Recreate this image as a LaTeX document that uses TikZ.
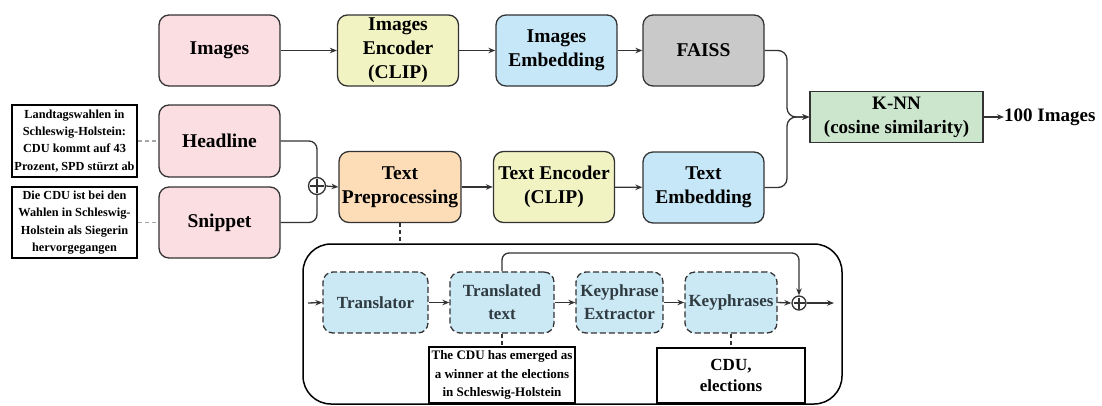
\documentclass[tikz,border=0pt]{standalone}
\usepackage{fontspec}
\setmainfont{Liberation Serif}
\usetikzlibrary{arrows.meta,calc}
\definecolor{cpink}{HTML}{FADEE1}
\definecolor{cyel}{HTML}{F2F3C3}
\definecolor{cblue}{HTML}{C6E7F7}
\definecolor{cgray}{HTML}{C9C9C9}
\definecolor{corange}{HTML}{FDDDB8}
\definecolor{cgreen}{HTML}{CCE6CD}
\definecolor{cpanel}{HTML}{CBE8F5}
\definecolor{cline}{HTML}{333333}
\definecolor{cptext}{HTML}{2F3B40}
\tikzset{
  mainbox/.style={draw=cline, line width=1.3pt, rounded corners=10pt, minimum width=121pt,
    minimum height=71pt, inner sep=0pt, align=center,
    font=\fontsize{19.5}{24}\selectfont\bfseries},
  knnbox/.style={draw=cline, line width=1.3pt, fill=cgreen, minimum width=173pt,
    minimum height=51pt, inner sep=0pt, align=center,
    font=\fontsize{19}{24}\selectfont\bfseries},
  smalltext/.style={draw=black, line width=1.5pt, minimum width=125pt, minimum height=71pt,
    inner sep=0pt, align=center, font=\fontsize{12.3}{17.3}\selectfont\bfseries},
  pbox/.style={draw=cline, line width=1.3pt, dash pattern=on 6pt off 3pt, fill=cpanel,
    rounded corners=10pt, minimum height=61pt, inner sep=0pt, align=center,
    text=cptext, font=\fontsize{17}{23}\selectfont\bfseries},
  descbox/.style={draw=black, line width=1.5pt, inner sep=0pt, align=center},
  conn/.style={draw=cline, line width=1.3pt, -{Stealth[length=7pt,width=5.5pt]}},
  plain/.style={draw=cline, line width=1.3pt},
  graydash/.style={draw=gray!70, line width=1.3pt, dash pattern=on 4pt off 3pt},
  darkdash/.style={draw=cline, line width=1.3pt, dash pattern=on 4pt off 3pt},
  pluscirc/.style={circle, draw=cline, line width=1.3pt, inner sep=0pt, fill=white,
    path picture={
      \draw[cline, line width=1.2pt] ($(path picture bounding box.north)+(0,-1.5pt)$) -- ($(path picture bounding box.south)+(0,1.5pt)$);
      \draw[cline, line width=1.2pt] ($(path picture bounding box.west)+(1.5pt,0)$) -- ($(path picture bounding box.east)+(-1.5pt,0)$);
    }},
}
\begin{document}
\begin{tikzpicture}[x=1pt,y=-1pt]
\useasboundingbox (0,0) rectangle (1102,405);
\clip (0,0) rectangle (1102,405);

% top row
\node[mainbox, fill=cpink] (img) at (219.5,50.5) {Images};
\node[mainbox, fill=cyel] (ienc) at (398,50.5) {Images\\Encoder\\(CLIP)};
\node[mainbox, fill=cblue] (iemb) at (556.5,50.5) {Images\\Embedding};
\node[mainbox, fill=cgray] (faiss) at (703.5,50.5) {FAISS};

% second row
\node[mainbox, fill=cpink, minimum height=72pt] (head) at (219.5,141) {Headline};
\node[mainbox, fill=cpink] (snip) at (219.5,222.5) {Snippet};
\node[mainbox, fill=corange, minimum width=122pt] (tp) at (400,187) {Text\\Preprocessing};
\node[mainbox, fill=cyel] (tenc) at (554,187) {Text Encoder\\(CLIP)};
\node[mainbox, fill=cblue] (temb) at (703.5,187.5) {Text\\Embedding};

\node[knnbox] (knn) at (896.5,117) {K-NN\\(cosine similarity)};
\node[anchor=west, inner sep=0pt, font=\fontsize{19}{24}\selectfont\bfseries] (out) at (1004,117) {100 Images};

\node[smalltext, minimum height=72pt] (htext) at (74.5,141) {Landtagswahlen in\\Schleswig-Holstein:\\CDU kommt auf 43\\Prozent, SPD stürzt ab};
\node[smalltext] (stext) at (74.5,222.5) {Die CDU ist bei den\\Wahlen in Schleswig-\\Holstein als Siegerin\\hervorgegangen};

\node[pluscirc, minimum size=17pt] (p1) at (317,186) {};

% connectors top
\draw[conn] (img) -- (ienc);
\draw[conn] (ienc) -- (iemb);
\draw[conn] (iemb) -- (faiss);
\coordinate (j) at (787,117);
\draw[conn, rounded corners=9pt] (faiss.east) -| (j) -- (knn.west);
\draw[conn, rounded corners=9pt] (temb.east) -| (j) -- (knn.west);
\draw[conn] (knn.east) -- (out.west);
\draw[conn] (tp) -- (tenc);
\draw[conn] (tenc) -- (temb);
\draw[plain, rounded corners=8pt] (head.east) -| (p1.north);
\draw[plain, rounded corners=8pt] (snip.east) -| (p1.south);
\draw[conn] (p1.east) -- (tp.west);
\draw[graydash] (htext.east) -- (head.west);
\draw[graydash] (stext.east) -- (snip.west);

% panel
\node[draw=black, line width=1.5pt, rounded corners=28pt, minimum width=539pt, minimum height=160pt, inner sep=0pt] (panel) at (572.5,324) {};
\draw[darkdash] (tp.south) -- (tp.south |- panel.north);

\node[pbox, minimum width=105pt] (tr) at (375.5,302.5) {Translator};
\node[pbox, minimum width=104pt] (tt) at (502,302.5) {Translated\\text};
\node[pbox, minimum width=87pt] (ke) at (619.5,302.5) {Keyphrase\\Extractor};
\node[pbox, minimum width=92pt] (kp) at (731,302.5) {Keyphrases};
\node[pluscirc, minimum size=14pt] (p2) at (799,303) {};

\node[descbox, minimum width=146pt, minimum height=56pt, font=\fontsize{13}{18.3}\selectfont\bfseries] (desc) at (502,375) {The CDU has emerged as\\a winner at the elections\\in Schleswig-Holstein};
\node[descbox, minimum width=148pt, minimum height=55pt, font=\fontsize{17}{21}\selectfont\bfseries] (cdu) at (731,375.5) {CDU,\\elections};

\coordinate (pin) at (308,303);
\coordinate (pout) at (834,303);
\coordinate (lt) at (799,253);
\draw[conn] (pin) -- (tr.west);
\draw[conn] (tr.east) -- (tr.east -| tt.west);
\draw[conn] (tt.east) -- (tt.east -| ke.west);
\draw[conn] (ke.east) -- (ke.east -| kp.west);
\draw[conn] (kp.east) -- (p2.west);
\draw[conn] (p2.east) -- (pout);
\draw[conn, rounded corners=7pt] (tt.north) |- (lt) -- (p2.north);
\draw[darkdash] (tt.south) -- (desc.north);
\draw[darkdash] (kp.south) -- (cdu.north);
\end{tikzpicture}
\end{document}
